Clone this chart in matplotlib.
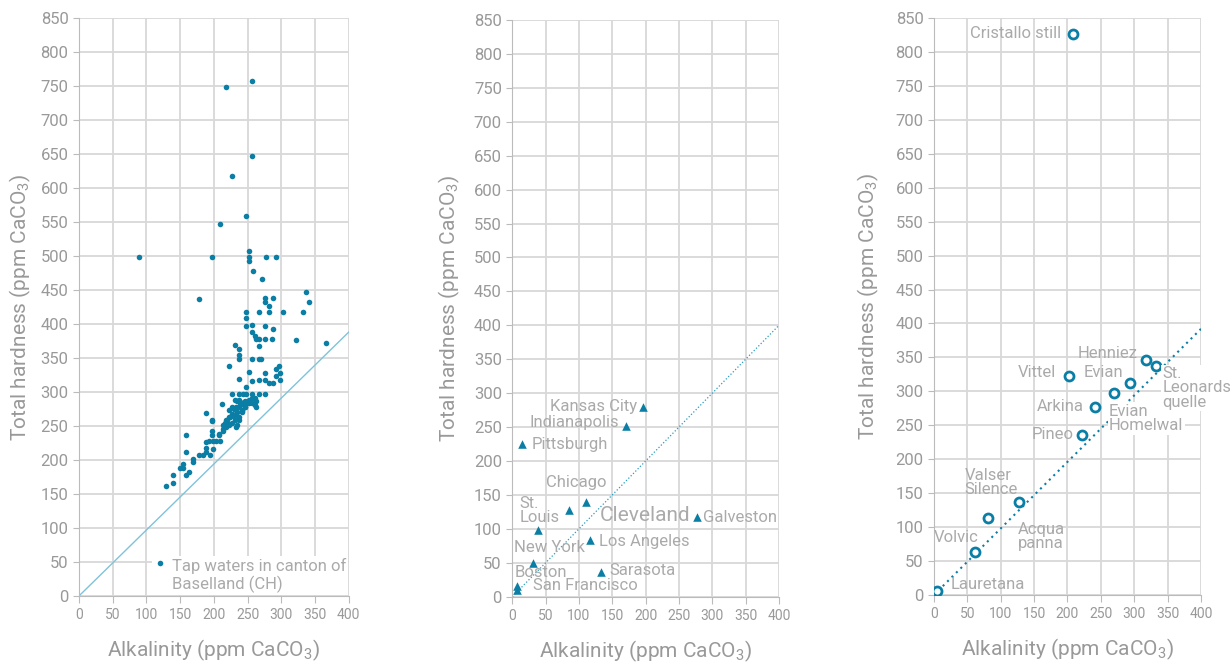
import matplotlib
matplotlib.use("Agg")
from matplotlib import pyplot as plt

# tap waters, canton Baselland (CH): alkalinity, total hardness
tap_alk = [89.7, 197.7, 251.8, 251.8, 251.8, 277, 292, 257.7, 272, 336, 178, 276.5, 287.5,
           276.5, 282, 341, 247.3, 267.6, 282, 302.3, 331.6, 247.3, 247.3, 257.2, 276.5, 287,
           256.2, 261.7, 262.2, 267.1, 276.5, 286.5, 321.2, 365.8, 267.1, 232, 237.9, 237.9,
           237.4, 257.2, 266.6, 270.6, 296.9, 291.9, 297.4, 223, 252.7, 276.5, 291.9, 237.4,
           257.2, 266.6, 276.5, 297.4, 282, 287.5, 247.3, 227.5, 237.4, 242.8, 247.3, 257.2,
           267.6, 276.5, 232, 237.4, 246.8, 252.3, 257.2, 262.2, 212.6, 242.8, 247.8, 252.7,
           227.5, 232.4, 242.3, 262.2, 223, 227.5, 232.4, 223, 232.4, 218, 223, 232.9, 187.8,
           197.7, 158.6, 208.1, 218, 213.1, 129.3, 139.2, 139.2, 158.6, 158.6, 149.1, 154.1,
           154.1, 163, 168.5, 168.5, 178.4, 183.3, 187.8, 187.8, 193.8, 187.8, 198.2, 198.2,
           203.2, 209.1, 197.7, 197.7, 208.1, 213.1, 256.7, 217.5, 256.7, 227.5, 247.8, 208.6,
           234.4, 239.4, 244.3, 229.5, 234.4, 236.9, 241.9, 246.8, 219.5, 224.5, 229.5, 231.9,
           227, 234.4, 222, 217, 197.2, 213.1, 251.8, 251.8, 261.7, 241.9, 249.3, 256.7, 261.7,
           246.8, 241.9, 236.9, 236.9, 192.8]
tap_hard = [498, 498, 508, 498, 493, 498, 498, 477.4, 466.6, 447.5, 437, 438.7, 438.7, 432.8,
            427, 432.3, 418, 418, 418, 418, 418, 408.3, 397.5, 398.5, 397.5, 392, 387.7, 382.8,
            377.9, 377.9, 377.9, 377.9, 376.9, 372.5, 367.6, 368.6, 363.2, 353.9, 349, 348,
            348, 348, 338.2, 333.3, 327.9, 337.7, 328.9, 328.4, 323, 318.6, 316.6, 317.1, 317.1,
            317.1, 312.7, 312.7, 307.8, 297, 297, 297, 297, 297, 297, 297, 288.7, 288.7, 287.2,
            287.2, 291.1, 287.2, 282.3, 282.3, 283.3, 284.3, 278.4, 277.4, 271.5, 277.9, 273,
            268.1, 268.1, 263.2, 261.2, 258.3, 253.4, 248.5, 268.6, 258.3, 236.7, 237.2, 249,
            251.5, 161.7, 177.9, 166.6, 177.4, 212.2, 188.2, 193.6, 188.2, 182.8, 201.9, 197,
            207.8, 207.8, 211.3, 217.1, 206.8, 227, 216.6, 227.4, 227.4, 227.4, 237.2, 242.1,
            237.7, 242.6, 757.3, 748, 647.5, 617.6, 558.3, 547, 287.3, 283.4, 285.8, 274.6,
            271.1, 277.5, 273.6, 277.5, 258.9, 262.8, 264.8, 258.9, 254, 251.5, 251.5, 254,
            257.9, 245.1, 285.8, 288.3, 290.7, 283.4, 283.4, 283.4, 280.9, 278.5, 271.1, 263.8,
            258.9, 227.4]

# US cities
city_alk = [196, 170.5, 15, 110, 85, 38.5, 31, 116, 133.5, 276.5, 6.5, 6.5]
city_hard = [280, 252, 225, 140, 128, 99, 50, 83, 36, 117, 16.5, 10]
city_labels = [("Kansas City", 187, 281, "right"), ("Indianapolis", 160, 257, "right"),
               ("Pittsburgh", 29, 224, "left"), ("Chicago", 96, 169, "center"),
               ("St.\nLouis", 11, 127, "left"), ("Galveston", 286, 117, "left"),
               ("Los Angeles", 130, 82, "left"), ("New York", 3, 73, "left"),
               ("Boston", 4, 35, "left"), ("Sarasota", 146, 38, "left"),
               ("San Francisco", 31, 16, "left")]

# bottled waters
bottle_alk = [5, 61, 81, 127, 222, 242, 202, 269, 294, 318, 332, 208]
bottle_hard = [5.5, 64, 113, 137, 236, 277, 322, 298, 313, 346, 338, 827]
bottle_labels = [("Cristallo still", 190, 827, "right"), ("Vittel", 183, 328, "right"),
                 ("Henniez", 305, 356, "right"), ("Evian", 284, 328, "right"),
                 ("Arkina", 224, 277, "right"), ("Pineo", 209, 236, "right"),
                 ("Valser\nSilence", 46, 166, "left"), ("Acqua\npanna", 126, 86, "left"),
                 ("Volvic", 67, 85, "right"), ("Lauretana", 25, 16, "left")]
boxed_labels = [("Evian\nHomelwal", 262, 260, "left"), ("St.\nLeonards\nquelle", 342, 305, "left")]

BLUE = '#0a7ea4'
TXT = '#aaaaaa'
TICK = '#999999'
GRID = '#d8d8d8'

plt.rcParams['font.family'] = ['Roboto', 'DejaVu Sans']
plt.rcParams['mathtext.fontset'] = 'custom'
plt.rcParams['mathtext.rm'] = 'Roboto'
plt.rcParams['mathtext.it'] = 'Roboto'


def style(axes, ylab_x):
    axes.set_xlim(0, 400)
    axes.set_ylim(0, 850)
    axes.set_xticks(range(0, 401, 50))
    axes.set_yticks(range(0, 851, 50))
    axes.set_axisbelow(True)
    axes.grid(color=GRID, linewidth=1.3)
    for s in ['top', 'right']:
        axes.spines[s].set_visible(False)
    for s in ['left', 'bottom']:
        axes.spines[s].set_color('#bbbbbb')
    axes.tick_params(axis='y', labelsize=12, colors='#bbbbbb', labelcolor=TICK, length=4)
    axes.tick_params(axis='x', labelsize=10, colors='#bbbbbb', labelcolor=TICK, length=5)
    axes.set_xlabel('Alkalinity (ppm CaCO$_3$)', fontsize=15, color=TICK)
    axes.set_ylabel('Total hardness (ppm CaCO$_3$)', fontsize=15, color=TICK)
    axes.xaxis.set_label_coords(0.5, -0.072)
    axes.yaxis.set_label_coords(ylab_x, 0.5)


fig = plt.figure(figsize=(12.3, 6.63), dpi=100)
ax1 = fig.add_axes([0.0642, 0.1011, 0.2193, 0.8718])
ax2 = fig.add_axes([0.4165, 0.1000, 0.2168, 0.8698])
ax3 = fig.add_axes([0.7593, 0.1026, 0.2171, 0.8703])

# panel 1
style(ax1, -0.17)
ax1.plot([0, 400], [0, 388], color='#7fc3da', linewidth=1)
ax1.scatter(tap_alk, tap_hard, s=16, color=BLUE, linewidths=0,
            label='Tap waters in canton of\nBaselland (CH)', zorder=3)
leg = ax1.legend(loc='lower right', fontsize=12, labelcolor=TXT, frameon=True,
                 facecolor='white', edgecolor='white', framealpha=1, borderpad=0.1,
                 borderaxespad=0.05, handletextpad=0.3, handlelength=0.8,
                 scatteryoffsets=[1.6])
leg.get_frame().set_linewidth(0)

# panel 2
style(ax2, -0.19)
ax2.plot([0, 400], [0, 400], color='#2a9bc0', linewidth=0.9, linestyle=':')
ax2.scatter(city_alk, city_hard, s=38, marker='^', color=BLUE, linewidths=0, zorder=3)
for txt, x, y, ha in city_labels:
    ax2.text(x, y, txt, ha=ha, va='center', fontsize=12, color=TXT, linespacing=0.85)
ax2.text(131, 120, 'Cleveland', ha='left', va='center', fontsize=15, color=TXT)

# panel 3
style(ax3, -0.20)
ax3.plot([0, 400], [0, 392], color=BLUE, linewidth=1.5, linestyle=(0, (1, 2)))
ax3.scatter(bottle_alk, bottle_hard, s=42, marker='o', facecolor='white',
            edgecolor=BLUE, linewidths=2, zorder=3)
for txt, x, y, ha in bottle_labels:
    ax3.text(x, y, txt, ha=ha, va='center', fontsize=12, color=TXT, linespacing=0.95)
for txt, x, y, ha in boxed_labels:
    ax3.text(x, y, txt, ha=ha, va='center', fontsize=12, color=TXT, linespacing=0.95,
             bbox=dict(facecolor='white', edgecolor='none', pad=1), zorder=4)

fig.savefig('out.png', dpi=100)
